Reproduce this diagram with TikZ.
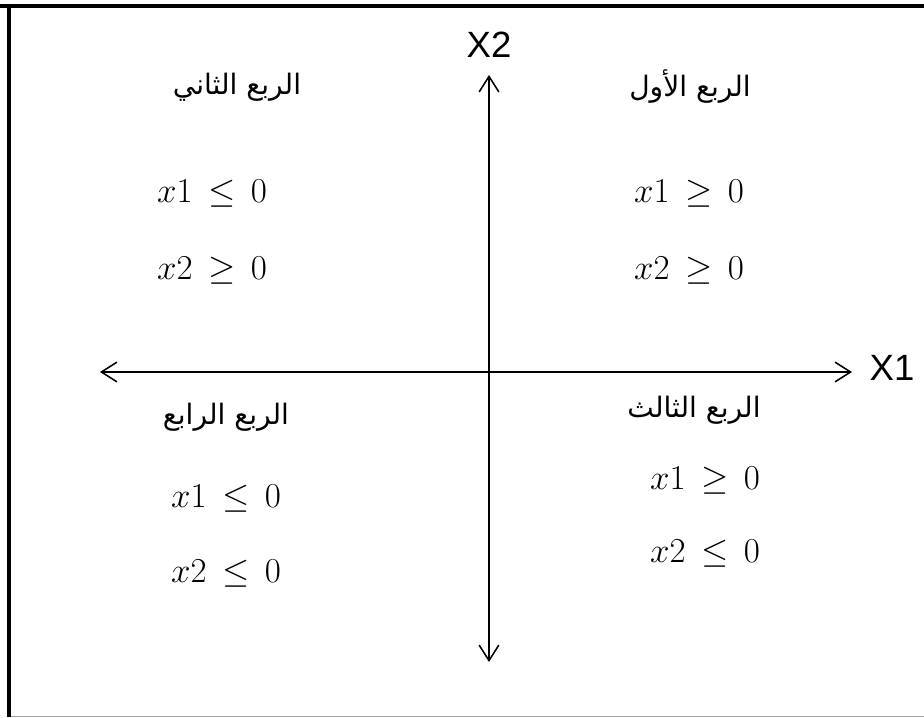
\documentclass[tikz,border=0pt]{standalone}
\usepackage{fontspec}
\usepackage{amsmath,amssymb}
\usepackage{tikz}
\usetikzlibrary{positioning,arrows.meta}
\TeXXeTstate=1
\newfontfamily\arabicfont[Script=Arabic]{DejaVu Sans}
\newfontfamily\axisfont{Liberation Sans}

\begin{document}
\begin{tikzpicture}[
        every node/.style={inner sep=1pt},
        qtitle/.style={font=\arabicfont\fontsize{20}{24}\selectfont},
        cond/.style={font=\fontsize{27}{31}\selectfont},
        axlabel/.style={font=\axisfont\fontsize{26}{30}\selectfont},
        axis/.style={{Straight Barb[length=11pt,width=14pt]}-{Straight Barb[length=11pt,width=14pt]}, line width=1.1pt}
        ]

        \useasboundingbox (-12.225,-8.625) rectangle (10.875,9.3);

        % ---------------- Frame ----------------
        \draw[line width=0.1cm] (-12.225,9.15) -- (10.875,9.15);
        \draw[line width=0.1cm] (-12.0,9.2) -- (-12.0,-8.625);
        \draw[gray!70, line width=0.7pt] (-11.95,-8.6) -- (10.875,-8.6);

        % ---------------- Axes ----------------
        \coordinate (xmin) at (-9.725,0);
        \coordinate (xmax) at ( 9.075,0);
        \coordinate (ymin) at (0,-7.25);
        \coordinate (ymax) at (0, 7.425);
        \draw[axis] (xmin) -- (xmax);
        \draw[axis] (ymin) -- (ymax);
        \node[axlabel, right=0.4cm of xmax, yshift=0.1cm] (xlab) {X1};
        \node[axlabel, above=0.4cm of ymax] (ylab) {X2};

        % ---------------- Quadrant I ----------------
        \node[qtitle] (q1) at (5.025,7.125) {\beginR الربع الأول\endR};
        \node[cond]   (q1a) at (5.0,4.45)   {$x1 \,\geq\, 0$};
        \node[cond]   (q1b) at (5.0,2.525)  {$x2 \,\geq\, 0$};

        % ---------------- Quadrant II ----------------
        \node[qtitle] (q2) at (-6.3,7.125)   {\beginR الربع الثاني\endR};
        \node[cond]   (q2a) at (-6.925,4.45)  {$x1 \,\leq\, 0$};
        \node[cond]   (q2b) at (-6.925,2.525) {$x2 \,\geq\, 0$};

        % ---------------- Quadrant III ----------------
        \node[qtitle] (q3) at (5.125,-0.95) {\beginR الربع الثالث\endR};
        \node[cond]   (q3a) at (5.4,-2.725)  {$x1 \,\geq\, 0$};
        \node[cond]   (q3b) at (5.4,-4.55)   {$x2 \,\leq\, 0$};

        % ---------------- Quadrant IV ----------------
        \node[qtitle] (q4) at (-6.575,-1.125) {\beginR الربع الرابع\endR};
        \node[cond]   (q4a) at (-6.575,-3.175) {$x1 \,\leq\, 0$};
        \node[cond]   (q4b) at (-6.575,-5.05)  {$x2 \,\leq\, 0$};

\end{tikzpicture}
\end{document}
